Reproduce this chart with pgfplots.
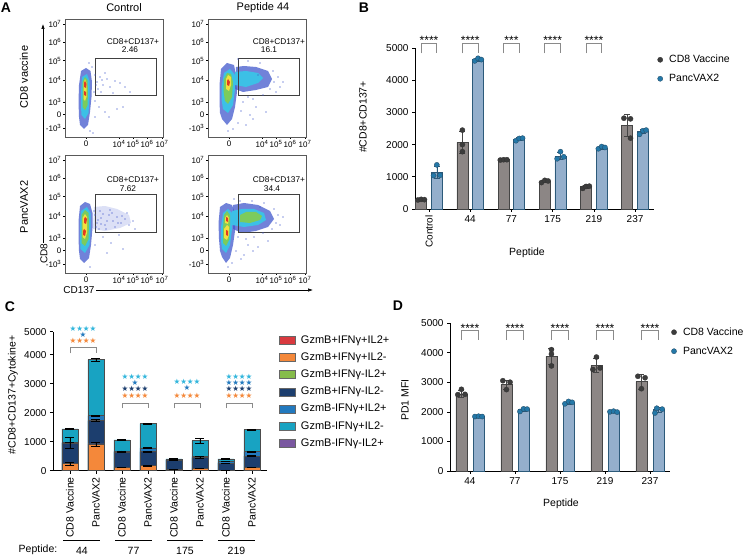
\documentclass[border=0pt]{standalone}
\usepackage{pgfplots}
\pgfplotsset{compat=1.18}
\usepackage{fontspec}
\setmainfont{Liberation Sans}
\newfontfamily\symfont{DejaVu Sans}
\usetikzlibrary{arrows.meta}

\definecolor{bargray}{HTML}{8C8685}
\definecolor{edgegray}{HTML}{454545}
\definecolor{barblue}{HTML}{94AFCC}
\definecolor{edgeblue}{HTML}{2C5A7A}
\definecolor{dotgray}{HTML}{3C3C3C}
\definecolor{dotblue}{HTML}{2478A8}
\definecolor{brk}{HTML}{8A8A8A}
\definecolor{cred}{HTML}{D93A3F}
\definecolor{corange}{HTML}{F4883A}
\definecolor{cgreen}{HTML}{86BC4A}
\definecolor{cnavy}{HTML}{1C3E6E}
\definecolor{cmed}{HTML}{2279BE}
\definecolor{ccyan}{HTML}{18A3C2}
\definecolor{cpurple}{HTML}{7A57A0}
\definecolor{scyan}{HTML}{32B6DC}
\definecolor{fblue}{HTML}{4258CC}
\definecolor{fpale}{HTML}{8A98E2}
\definecolor{fcyan}{HTML}{3CC0E6}
\definecolor{fgreen}{HTML}{7CCB5C}
\definecolor{fyellow}{HTML}{F2E040}
\definecolor{fred}{HTML}{E23A22}

\tikzset{glab/.style={font=\fontsize{8.3}{9}\selectfont, inner sep=0pt}}
\newcommand{\lf}{\fontsize{11}{13}\selectfont}

\pgfplotsset{
  flow/.style={scale only axis, width=98pt, height=118pt, anchor=south west,
    xmin=0, xmax=98, ymin=0, ymax=118,
    axis line style={black!65, line width=0.7pt},
    tick style={black, line width=0.5pt}, tick align=outside, major tick length=2pt,
    xtick={21,54,68,82,97},
    xticklabels={0,10\textsuperscript{4},10\textsuperscript{5},10\textsuperscript{6},10\textsuperscript{7}},
    ytick={8.7,22.3,34.7,57,76.3,94.7,113},
    yticklabels={-10\textsuperscript{3},0,10\textsuperscript{3},10\textsuperscript{4},10\textsuperscript{5},10\textsuperscript{6},10\textsuperscript{7}},
    xtick pos=bottom, ytick pos=left,
    ticklabel style={font=\fontsize{8}{9}\selectfont, inner sep=1.5pt},
    axis on top},
  blob/.style={draw=none, fill=#1},
  speck/.style={only marks, mark=*, mark size=0.45pt, color=fblue},
  gate/.style={black!75, line width=0.6pt},
  panel/.style={scale only axis, anchor=south west, axis lines*=left,
    tick align=outside, major tick length=3pt,
    axis line style={black, line width=0.6pt}, tick style={black, line width=0.6pt},
    ticklabel style={font=\fontsize{10}{12}\selectfont},
    /pgf/number format/assume math mode=true, /pgf/number format/1000 sep={},
    clip=false, ymin=0},
  dotleg/.style={legend cell align=left,
    legend style={anchor=north west, draw=none, fill=none, row sep=8pt,
      font=\fontsize{10.5}{12}\selectfont, nodes={inner sep=1pt}},
    legend image code/.code={\path[draw=none,fill=none] (-9pt,0pt) -- (2pt,0pt);\draw[mark repeat=1,##1] plot coordinates {(-6pt,0pt)};}},
  gbar/.style={ybar, bar width=11pt, bar shift=0pt, fill=bargray, draw=edgegray, line width=0.6pt, forget plot,
    error bars/.cd, y dir=both, y explicit,
    error bar style={edgegray, line width=0.6pt},
    error mark options={rotate=90, mark size=3pt, edgegray, line width=0.6pt}},
  bbar/.style={ybar, bar width=11pt, bar shift=0pt, fill=barblue, draw=edgeblue, line width=0.6pt, forget plot,
    error bars/.cd, y dir=both, y explicit,
    error bar style={edgeblue, line width=0.6pt},
    error mark options={rotate=90, mark size=3pt, edgeblue, line width=0.6pt}},
  gdot/.style={only marks, mark=*, mark size=2.6pt, mark options={fill=dotgray, draw=black!80, line width=0.3pt}},
  bdot/.style={only marks, mark=*, mark size=2.6pt, mark options={fill=dotblue, draw=edgeblue!80!black, line width=0.3pt}},
  cbar/.style={ybar, bar width=16pt, bar shift=0pt, fill=#1, draw=black!70, line width=0.5pt, forget plot,
    error bars/.cd, y dir=both, y explicit,
    error bar style={black, line width=0.6pt},
    error mark options={rotate=90, mark size=4.5pt, black, line width=0.6pt}},
}

\begin{document}
\fontsize{10}{12}\selectfont
\begin{tikzpicture}[x=1pt,y=1pt]
\useasboundingbox (0pt,0pt) rectangle (744pt,557pt);

% ---------------- Panel A ----------------
% top left: Control / CD8 vaccine
\begin{axis}[flow, at={(65pt,420pt)}]
\addplot[blob=fblue, fill opacity=0.75] coordinates {(15,12)(19,8)(23,12)(25,25)(26.5,40)(27,55)(25.5,66)(21,69)(16,66)(14,52)(13.5,35)(14,20)} --cycle;
\addplot[blob=fcyan] coordinates {(16.5,22)(20,18)(23.5,24)(24.5,40)(24.5,56)(22,63)(17,60)(16,45)(16,30)} --cycle;
\addplot[blob=fgreen] coordinates {(17.5,30)(20,27)(22.5,32)(23,45)(22.5,57)(20,60)(17.5,55)(17.5,42)} --cycle;
\addplot[blob=fyellow] coordinates {(18.5,38)(20,36)(21.5,40)(21.5,54)(20,58)(18.5,54)(18.5,45)} --cycle;
\addplot[blob=fred] coordinates {(19,50)(21,49)(21.5,53)(20,56)(19,54)} --cycle;
\addplot[blob=fred] coordinates {(19,42)(21,41)(21,45)(19,46)} --cycle;
\addplot[speck] coordinates {(32,55)(35,60)(38,52)(42,58)(33,48)(45,50)(50,56)(36,45)(30,62)(55,54)(40,64)(48,44)(34,30)(40,25)(52,28)(30,20)(25,6)(60,50)(28,4)(44,20)(58,30)(65,45)(31,52)(37,57)(29,45)(30,36)(27,70)(24,74)};
\addplot[gate] coordinates {(30,42)(91.7,42)(91.7,79)(30,79)} --cycle;
\node[glab] at (axis cs:68,95) {CD8+CD137+};
\node[glab] at (axis cs:65,87.5) {2.46};
\end{axis}

% top right: Peptide 44 / CD8 vaccine
\begin{axis}[flow, at={(208pt,420pt)}]
\addplot[blob=fblue, fill opacity=0.75] coordinates {(14,18)(19,12)(24,18)(27,30)(29,45)(28,62)(26,72)(19,74)(13,68)(11.5,52)(11.5,35)(12,24)} --cycle;
\addplot[blob=fblue, fill opacity=0.75] coordinates {(27,48)(35,45)(48,47)(60,50)(64,58)(60,66)(48,70)(36,71)(28,70)} --cycle;
\addplot[blob=fcyan] coordinates {(15,28)(20,24)(25,32)(27,48)(27,62)(22,68)(16,64)(13.5,50)(13.5,38)} --cycle;
\addplot[blob=fcyan] coordinates {(27,52)(38,50)(50,54)(55,59)(50,64)(38,66)(27,65)} --cycle;
\addplot[blob=fgreen] coordinates {(17,36)(20,33)(24,40)(25,55)(23,63)(19,64)(16,58)(15.5,46)} --cycle;
\addplot[blob=fyellow] coordinates {(18,48)(21,46)(23,52)(23,60)(20,62)(18,58)} --cycle;
\addplot[blob=fred] coordinates {(19,52)(21,51)(22,55)(20,58)(19,56)} --cycle;
\addplot[speck] coordinates {(40,40)(45,38)(55,42)(62,48)(66,55)(70,60)(65,66)(52,74)(40,76)(30,78)(35,35)(48,30)(58,25)(25,8)(30,14)(42,22)(68,45)(75,55)(72,50)(50,62)(20,6)(33,26)(45,18)(38,12)};
\addplot[gate] coordinates {(30.3,42)(91.3,42)(91.3,79)(30.3,79)} --cycle;
\node[glab] at (axis cs:71,95) {CD8+CD137+};
\node[glab] at (axis cs:61,87.5) {16.1};
\end{axis}

% bottom left: Control / PancVAX2
\begin{axis}[flow, at={(65pt,284pt)}]
\addplot[blob=fpale, fill opacity=0.3] coordinates {(28,44)(40,42)(55,45)(66,50)(64,58)(52,64)(40,67)(29,66)} --cycle;
\addplot[blob=fblue, fill opacity=0.75] coordinates {(15,14)(19,10)(24,15)(26,28)(27.5,45)(27.5,60)(25,69)(20,71)(15,67)(13.5,52)(13.5,35)(14,22)} --cycle;
\addplot[blob=fcyan] coordinates {(15.5,24)(20,20)(24.5,28)(25.5,44)(25.5,60)(22,66)(16,62)(15,48)(15,34)} --cycle;
\addplot[blob=fgreen] coordinates {(16.5,30)(20,27)(23.5,34)(24,50)(23.5,60)(20,63)(16.5,58)(16.5,44)} --cycle;
\addplot[blob=fyellow] coordinates {(17.5,36)(20,34)(22,40)(22,56)(20,59)(17.5,55)(17.5,45)} --cycle;
\addplot[blob=fred] coordinates {(18,38)(20,37)(21,42)(19,44)(18,42)} --cycle;
\addplot[blob=fred] coordinates {(19,50)(21,49)(22,54)(20,56)(19,54)} --cycle;
\addplot[speck] coordinates {(32,50)(36,55)(40,48)(44,58)(48,52)(52,56)(56,50)(60,54)(35,62)(45,63)(30,58)(50,46)(62,60)(68,52)(38,36)(46,30)(54,38)(30,28)(42,20)(25,6)(58,24)(70,44)(34,44)(64,48)(31,46)(33,53)(38,59)(42,52)(47,60)(53,50)(57,57)(41,44)(29,62)(36,49)};
\addplot[gate] coordinates {(30,40.4)(91.7,40.4)(91.7,78.4)(30,78.4)} --cycle;
\node[glab] at (axis cs:68,93) {CD8+CD137+};
\node[glab] at (axis cs:63,84) {7.62};
\end{axis}

% bottom right: Peptide 44 / PancVAX2
\begin{axis}[flow, at={(208pt,284pt)}]
\addplot[blob=fblue, fill opacity=0.75] coordinates {(14,16)(18,10)(22,15)(25,28)(27,42)(27,60)(24,68)(18,70)(12,66)(10.5,50)(11,34)(12,22)} --cycle;
\addplot[blob=fblue, fill opacity=0.75] coordinates {(25,44)(34,40)(48,42)(60,46)(66,54)(62,62)(50,68)(36,70)(25,68)} --cycle;
\addplot[blob=fcyan] coordinates {(14,24)(18,20)(22,28)(24,44)(24,60)(20,64)(15,60)(13,46)(13,32)} --cycle;
\addplot[blob=fcyan] coordinates {(24,48)(36,46)(50,48)(58,53)(56,60)(46,64)(34,64)(24,62)} --cycle;
\addplot[blob=fgreen] coordinates {(32,51)(42,50)(52,53)(54,57)(48,61)(38,61)(32,58)} --cycle;
\addplot[blob=fgreen] coordinates {(15,30)(18,27)(21,33)(22,48)(22,58)(19,62)(16,58)(15,44)} --cycle;
\addplot[blob=fyellow] coordinates {(16,35)(19,33)(21,38)(21,46)(19,48)(16,44)} --cycle;
\addplot[blob=fyellow] coordinates {(17,50)(20,49)(21,55)(19,58)(17,55)} --cycle;
\addplot[blob=fred] coordinates {(18,38)(20,37)(20,42)(18,43)} --cycle;
\addplot[blob=fred] coordinates {(18,52)(20,51)(20,55)(18,56)} --cycle;
\addplot[speck] coordinates {(30,36)(38,34)(46,36)(55,40)(64,44)(68,50)(70,58)(66,64)(56,70)(44,72)(32,72)(26,74)(40,28)(50,26)(28,22)(36,18)(20,6)(24,10)(60,32)(72,48)(75,56)(52,66)(45,22)(33,14)};
\addplot[gate] coordinates {(30.3,40.4)(91.3,40.4)(91.3,78.4)(30.3,78.4)} --cycle;
\node[glab] at (axis cs:71,93) {CD8+CD137+};
\node[glab] at (axis cs:64,84) {34.4};
\end{axis}

\node[font=\fontsize{11}{13}\selectfont] at (124pt,549pt) {Control};
\node[font=\fontsize{11}{13}\selectfont] at (263pt,549pt) {Peptide 44};
\node[rotate=90, font=\fontsize{11}{13}\selectfont] at (24pt,480pt) {CD8 vaccine};
\node[rotate=90, font=\fontsize{11}{13}\selectfont] at (24pt,350pt) {PancVAX2};
\draw[line width=0.6pt, -{Latex[length=5pt,width=3.5pt]}] (43pt,314pt) -- (43pt,533pt);
\node[rotate=90, font=\fontsize{10}{12}\selectfont] at (44pt,303pt) {CD8};
\draw[line width=0.6pt, -{Latex[length=5pt,width=3.5pt]}] (96pt,267pt) -- (313pt,267pt);
\node[font=\fontsize{10}{12}\selectfont] at (79pt,267pt) {CD137};

% ---------------- Panel B ----------------
\begin{axis}[panel, dotleg, at={(415pt,348pt)}, width=239pt, height=161pt,
  xmin=-0.34, xmax=5.46, ymax=5000, ytick={0,1000,...,5000},
  xtick={0,...,5}, xticklabels={\rotatebox{90}{Control},44,77,175,219,237},
  legend style={at={(axis description cs:1.0,0.975)}}]
\addplot[gbar] coordinates {(-0.19,290) +- (0,15) (0.81,2070) +- (0,340) (1.81,1530) +- (0,10) (2.81,860) +- (0,35) (3.81,690) +- (0,40) (4.81,2600) +- (0,350)};
\addplot[bbar] coordinates {(0.19,1130) +- (0,190) (1.19,4640) +- (0,40) (2.19,2170) +- (0,45) (3.19,1640) +- (0,110) (4.19,1900) +- (0,35) (5.19,2420) +- (0,70)};
\addplot[gdot] coordinates {(-0.27,280)(-0.19,300)(-0.11,290) (0.81,2450)(0.81,2000)(0.81,1780) (1.73,1520)(1.81,1530)(1.89,1530) (2.73,820)(2.81,890)(2.89,870) (3.73,640)(3.81,700)(3.89,710) (4.73,2820)(4.89,2200)(4.89,2800)};
\addlegendentry{CD8 Vaccine}
\addplot[bdot] coordinates {(0.19,1370)(0.11,1040)(0.27,1050) (1.11,4600)(1.19,4680)(1.27,4640) (2.11,2120)(2.19,2190)(2.27,2200) (3.11,1560)(3.19,1780)(3.27,1620) (4.11,1870)(4.19,1940)(4.27,1910) (5.11,2320)(5.19,2430)(5.27,2450)};
\addlegendentry{PancVAX2}
\foreach \c/\s in {0/****,1/****,2/***,3/****,4/****}{
  \edef\tmp{\noexpand\draw[brk, line width=0.7pt] (axis cs:\c-0.19,4835) |- (axis cs:\c+0.19,5146) -- (axis cs:\c+0.19,4835);
  \noexpand\node[font=\noexpand\fontsize{12}{12}\noexpand\selectfont] at (axis cs:\c,5230) {\s};}\tmp
}
\end{axis}
\node[rotate=90, font=\fontsize{10.5}{12}\selectfont] at (363pt,440pt) {\#CD8+CD137+};
\node[font=\fontsize{10.5}{12}\selectfont] at (527pt,304pt) {Peptide};

% ---------------- Panel C ----------------
\begin{axis}[panel, at={(53pt,86.3pt)}, width=214pt, height=139pt,
  xmin=-0.65, xmax=7.58, ymax=4793,
  ytick={0,1000,2000,3000,4000,4793}, yticklabels={0,1000,2000,3000,4000,5000},
  xtick={0,...,7}, xticklabels={CD8 Vaccine,PancVAX2,CD8 Vaccine,PancVAX2,CD8 Vaccine,PancVAX2,CD8 Vaccine,PancVAX2},
  xticklabel style={rotate=90, anchor=east, font=\fontsize{10.5}{12}\selectfont},
  legend cell align=left,
  legend style={at={(axis description cs:1.04,0.995)}, anchor=north west, draw=none, fill=none, row sep=6pt,
    nodes={inner sep=1pt}},
  legend image code/.code={\draw[#1] (0pt,-4pt) rectangle (16pt,4pt); \path[draw=none,fill=none] (0pt,0pt) -- (21pt,0pt);}]
% cumulative tops: total, +IFNg+IL2+, GzmB+IFNg-IL2-, GzmB+IFNg+IL2-
\addplot[cbar=ccyan] coordinates {(0,1445) +- (0,30) (1,3830) +- (0,50) (2,1060) +- (0,20) (3,1620) +- (0,20) (4,410) +- (0,10) (5,1040) +- (0,90) (6,410) +- (0,10) (7,1420) +- (0,15)};
\addplot[cbar=cmed] coordinates {(0,980) +- (0,0) (1,1900) +- (0,20) (2,680) +- (0,0) (3,790) +- (0,20) (4,380) +- (0,0) (5,490) +- (0,10) (6,310) +- (0,0) (7,660) +- (0,10)};
\addplot[cbar=cnavy] coordinates {(0,960) +- (0,190) (1,1730) +- (0,30) (2,650) +- (0,20) (3,660) +- (0,20) (4,370) +- (0,10) (5,450) +- (0,30) (6,260) +- (0,10) (7,500) +- (0,20)};
\addplot[cbar=corange] coordinates {(0,240) +- (0,50) (1,925) +- (0,70) (2,115) +- (0,10) (3,175) +- (0,10) (4,40) +- (0,5) (5,80) +- (0,10) (6,20) +- (0,5) (7,115) +- (0,15)};
\addlegendimage{fill=cred, draw=black!60}\addlegendentry{\lf GzmB+IFNγ+IL2+}
\addlegendimage{fill=corange, draw=black!60}\addlegendentry{\lf GzmB+IFNγ+IL2-}
\addlegendimage{fill=cgreen, draw=black!60}\addlegendentry{\lf GzmB+IFNγ-IL2+}
\addlegendimage{fill=cnavy, draw=black!60}\addlegendentry{\lf GzmB+IFNγ-IL2-}
\addlegendimage{fill=cmed, draw=black!60}\addlegendentry{\lf GzmB-IFNγ+IL2+}
\addlegendimage{fill=ccyan, draw=black!60}\addlegendentry{\lf GzmB-IFNγ+IL2-}
\addlegendimage{fill=cpurple, draw=black!60}\addlegendentry{\lf GzmB-IFNγ-IL2+}
\end{axis}
\node[rotate=90, font=\fontsize{10.5}{12}\selectfont] at (13pt,162pt) {\#CD8+CD137+Cytokine+};
% significance, panel C
\begin{scope}[font=\symfont\fontsize{7.5}{7.5}\selectfont, inner sep=0pt]
\draw[brk, line width=0.7pt] (70pt,203.7pt) |- (96pt,209.3pt) -- (96pt,203.7pt);
\node[text=scyan] at (83pt,228pt) {★★★★};
\node[text=cmed] at (83pt,222pt) {★};
\node[text=corange] at (83pt,216pt) {★★★★};
\draw[brk, line width=0.7pt] (122pt,148.7pt) |- (148pt,153.7pt) -- (148pt,148.7pt);
\node[text=scyan] at (135pt,180.3pt) {★★★★};
\node[text=cmed] at (135pt,174.3pt) {★};
\node[text=cnavy] at (135pt,167.7pt) {★★★★};
\node[text=corange] at (135pt,161pt) {★★★★};
\draw[brk, line width=0.7pt] (174pt,148.7pt) |- (200pt,153.7pt) -- (200pt,148.7pt);
\node[text=scyan] at (187pt,175.3pt) {★★★★};
\node[text=cmed] at (187pt,168.7pt) {★};
\node[text=corange] at (187pt,161pt) {★★★★};
\draw[brk, line width=0.7pt] (226pt,148.7pt) |- (252pt,153.7pt) -- (252pt,148.7pt);
\node[text=scyan] at (239pt,180.3pt) {★★★★};
\node[text=cmed] at (239pt,174pt) {★★★★};
\node[text=cnavy] at (239pt,167.7pt) {★★★★};
\node[text=corange] at (239pt,161pt) {★★★★};
\end{scope}
\foreach \a/\b in {63/100,115/152,167/203,218/255}{\draw[line width=0.6pt] (\a pt,17pt) -- (\b pt,17pt);}
\node[font=\fontsize{10.5}{12}\selectfont] at (38pt,7pt) {Peptide:};
\node[font=\fontsize{10.5}{12}\selectfont] at (82pt,6.5pt) {44};
\node[font=\fontsize{10.5}{12}\selectfont] at (133.5pt,6.5pt) {77};
\node[font=\fontsize{10.5}{12}\selectfont] at (185pt,6.5pt) {175};
\node[font=\fontsize{10.5}{12}\selectfont] at (236.5pt,6.5pt) {219};

% ---------------- Panel D ----------------
\begin{axis}[panel, dotleg, at={(450pt,86pt)}, width=220pt, height=148pt,
  xmin=-0.444, xmax=4.444, ymax=5000, ytick={0,1000,...,5000},
  xtick={0,...,4}, xticklabels={44,77,175,219,237},
  legend style={at={(axis description cs:0.99,0.99)}}]
\addplot[gbar] coordinates {(-0.19,2600) +- (0,110) (0.81,2920) +- (0,160) (1.81,3870) +- (0,280) (2.81,3570) +- (0,230) (3.81,3020) +- (0,250)};
\addplot[bbar] coordinates {(0.19,1840) +- (0,15) (1.19,2070) +- (0,50) (2.19,2310) +- (0,45) (3.19,2000) +- (0,20) (4.19,2070) +- (0,90)};
\addplot[gdot] coordinates {(-0.27,2580)(-0.19,2760)(-0.11,2590) (0.73,3050)(0.81,2750)(0.89,3000) (1.81,4100)(1.81,3550)(1.81,3950) (2.81,3850)(2.73,3430)(2.89,3480) (3.73,3200)(3.81,2780)(3.89,3150)};
\addlegendentry{CD8 Vaccine}
\addplot[bdot] coordinates {(0.11,1840)(0.19,1850)(0.27,1840) (1.11,2010)(1.19,2100)(1.27,2090) (2.11,2270)(2.19,2350)(2.27,2320) (3.11,2000)(3.19,2020)(3.27,1990) (4.11,1960)(4.15,2120)(4.27,2090)};
\addlegendentry{PancVAX2}
\foreach \c in {0,...,4}{
  \edef\tmp{\noexpand\draw[brk, line width=0.7pt] (axis cs:\c-0.19,4425) |- (axis cs:\c+0.19,4740) -- (axis cs:\c+0.19,4425);
  \noexpand\node[font=\noexpand\fontsize{12}{12}\noexpand\selectfont] at (axis cs:\c,4830) {****};}\tmp
}
\end{axis}
\node[rotate=90, font=\fontsize{10.5}{12}\selectfont] at (405pt,157pt) {PD1 MFI};
\node[font=\fontsize{10.5}{12}\selectfont] at (561pt,53pt) {Peptide};

% panel letters
\node[font=\bfseries\fontsize{14}{16}\selectfont] at (6pt,549pt) {A};
\node[font=\bfseries\fontsize{14}{16}\selectfont] at (364pt,549pt) {B};
\node[font=\bfseries\fontsize{14}{16}\selectfont] at (10pt,250pt) {C};
\node[font=\bfseries\fontsize{14}{16}\selectfont] at (398pt,251pt) {D};
\end{tikzpicture}
\end{document}
